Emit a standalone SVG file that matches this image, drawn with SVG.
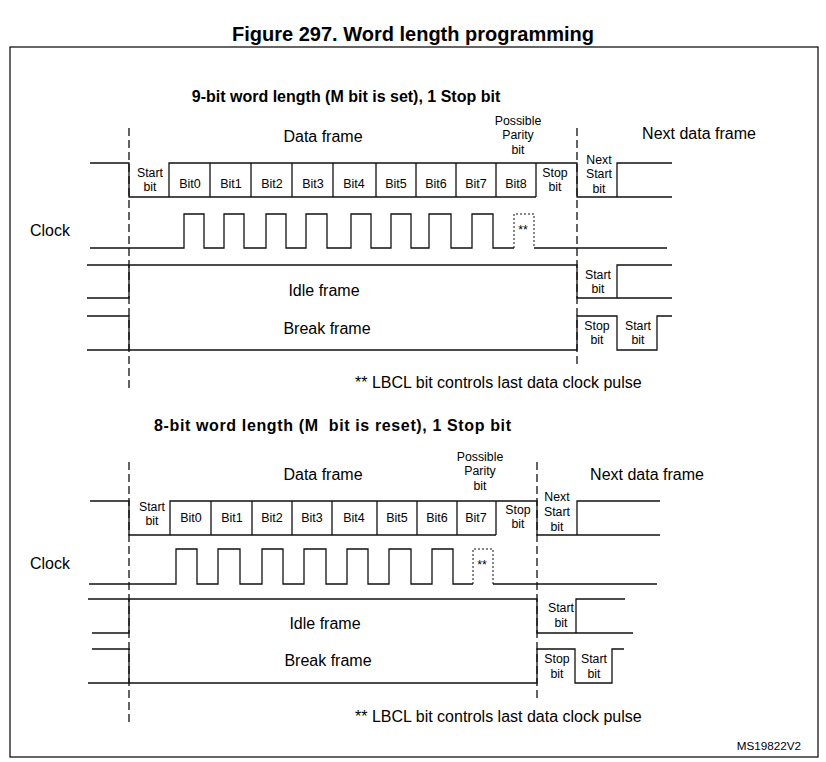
<svg xmlns="http://www.w3.org/2000/svg" width="826" height="762" viewBox="0 0 826 762">
<style>
text{font-family:"Liberation Sans",Arial,sans-serif;fill:#000}
.t{font-size:20px;font-weight:bold}
.h{font-size:16px;font-weight:bold}
.l{font-size:16px}
.s{font-size:12.3px;text-anchor:middle}
.b{font-size:12.5px;text-anchor:middle}
.m{text-anchor:middle}
.sig{fill:none;stroke:#111;stroke-width:1.3}
.dot{fill:none;stroke:#111;stroke-width:1;stroke-dasharray:2 2}
.dash{fill:none;stroke:#111;stroke-width:1.3;stroke-dasharray:8 4}
</style>
<rect x="10" y="47" width="808" height="710" fill="#fff" stroke="#000" stroke-width="1.2"/>
<text class="t" x="413" y="41" text-anchor="middle">Figure 297. Word length programming</text>

<g id="upper-diagram">
<text class="h" x="346" y="102" text-anchor="middle">9-bit word length (M bit is set), 1 Stop bit</text>
<g id="u-labels">
<text class="l m" x="323" y="142">Data frame</text>
<text class="l m" x="699" y="139">Next data frame</text>
<text class="s" x="518" y="125">Possible</text>
<text class="s" x="518" y="139">Parity</text>
<text class="s" x="518" y="154">bit</text>
<text class="l" x="30" y="236">Clock</text>
<text class="l m" x="324" y="296">Idle frame</text>
<text class="l m" x="327" y="334">Break frame</text>
<text class="l" x="355" y="388">** LBCL bit controls last data clock pulse</text>
</g>
<g id="u-data-frame">
<path class="sig" d="M90,163 H129 V197 H536 M169,197 V163 H577 V197 H672 M617,197 V163 H672 M210,163 V197 M251,163 V197 M292,163 V197 M333,163 V197 M376,163 V197 M416,163 V197 M456,163 V197 M496,163 V197 M536,163 V197"/>
<text class="s" x="150" y="177">Start</text><text class="s" x="150" y="191">bit</text>
<text class="b" x="190" y="188">Bit0</text>
<text class="b" x="231" y="188">Bit1</text>
<text class="b" x="272" y="188">Bit2</text>
<text class="b" x="313" y="188">Bit3</text>
<text class="b" x="354" y="188">Bit4</text>
<text class="b" x="396" y="188">Bit5</text>
<text class="b" x="436" y="188">Bit6</text>
<text class="b" x="476" y="188">Bit7</text>
<text class="b" x="516" y="188">Bit8</text>
<text class="s" x="555" y="177">Stop</text><text class="s" x="555" y="191">bit</text>
<text class="s" x="599" y="164">Next</text><text class="s" x="599" y="178">Start</text><text class="s" x="599" y="193">bit</text>
</g>
<g id="u-clock">
<path class="sig" d="M90,248 H184 V214 H204 V248 H224 V214 H244 V248 H266 V214 H286 V248 H306 V214 H327 V248 H351 V214 H371 V248 H391 V214 H411 V248 H429 V214 H451 V248 H472 V214 H493 V248 H514 M534,248 H667"/>
<path class="dot" d="M514,248 V214 H534 V248"/>
<text class="s" x="523" y="234">**</text>
</g>
<g id="u-idle">
<path class="sig" d="M87,265 H577 V298 H672 M617,298 V265 H672 M87,298 H129 V265"/>
<text class="s" x="598" y="279">Start</text><text class="s" x="598" y="293">bit</text>
</g>
<g id="u-break">
<path class="sig" d="M87,316 H129 V350 M87,350 H577 V316 H617 V350 H657 V316 H672"/>
<text class="s" x="597" y="330">Stop</text><text class="s" x="597" y="344">bit</text>
<text class="s" x="638" y="330">Start</text><text class="s" x="638" y="344">bit</text>
</g>
</g>

<g id="lower-diagram">
<text class="h" x="154" y="431" xml:space="preserve" textLength="357" lengthAdjust="spacing">8-bit word length (M  bit is reset), 1 Stop bit</text>
<g id="l-labels">
<text class="l m" x="323" y="480">Data frame</text>
<text class="l m" x="647" y="480">Next data frame</text>
<text class="s" x="480" y="461">Possible</text>
<text class="s" x="480" y="475">Parity</text>
<text class="s" x="480" y="490">bit</text>
<text class="l" x="30" y="569">Clock</text>
<text class="l m" x="325" y="629">Idle frame</text>
<text class="l m" x="328" y="666">Break frame</text>
<text class="l" x="355" y="722">** LBCL bit controls last data clock pulse</text>
</g>
<g id="l-data-frame">
<path class="sig" d="M90,501 H129 V535 H496 M170,535 V501 H537 V535 H660 M577,535 V501 H660 M211,501 V535 M252,501 V535 M292,501 V535 M332,501 V535 M377,501 V535 M417,501 V535 M457,501 V535 M496,501 V535"/>
<text class="s" x="152" y="511">Start</text><text class="s" x="152" y="525">bit</text>
<text class="b" x="191" y="522">Bit0</text>
<text class="b" x="232" y="522">Bit1</text>
<text class="b" x="272" y="522">Bit2</text>
<text class="b" x="312" y="522">Bit3</text>
<text class="b" x="354" y="522">Bit4</text>
<text class="b" x="397" y="522">Bit5</text>
<text class="b" x="437" y="522">Bit6</text>
<text class="b" x="476" y="522">Bit7</text>
<text class="s" x="518" y="514">Stop</text><text class="s" x="518" y="528">bit</text>
<text class="s" x="557" y="501">Next</text><text class="s" x="557" y="516">Start</text><text class="s" x="557" y="531">bit</text>
</g>
<g id="l-clock">
<path class="sig" d="M89,584 H176 V549 H197 V584 H218 V549 H240 V584 H262 V549 H283 V584 H304 V549 H326 V584 H347 V549 H368 V584 H389 V549 H411 V584 H432 V549 H453 V584 H473 M493,584 H657"/>
<path class="dot" d="M473,584 V549 H493 V584"/>
<text class="s" x="482" y="569">**</text>
</g>
<g id="l-idle">
<path class="sig" d="M88,599 H537 V633 H633 M576,633 V599 H625 M92,633 H129 V599"/>
<text class="s" x="561" y="612">Start</text><text class="s" x="561" y="627">bit</text>
</g>
<g id="l-break">
<path class="sig" d="M92,649 H129 V683 M88,683 H537 V649 H575 V683 H612 V649 H624"/>
<text class="s" x="557" y="663">Stop</text><text class="s" x="557" y="678">bit</text>
<text class="s" x="594" y="663">Start</text><text class="s" x="594" y="678">bit</text>
</g>
</g>

<g id="connectors">
<path class="dash" d="M129,128 V388 M577,128 V366 M129,462 V722 M537,462 V700"/>
</g>
<text x="801" y="750" font-size="11.7" text-anchor="end">MS19822V2</text>
</svg>
